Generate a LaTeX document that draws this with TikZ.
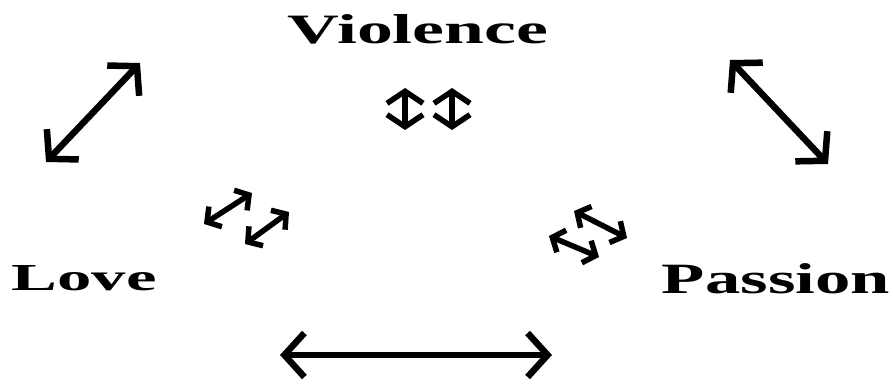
\documentclass[tikz,border=0pt]{standalone}
\usepackage{fontspec}
\setmainfont{Liberation Serif}
\usetikzlibrary{arrows.meta}
\begin{document}
\begin{tikzpicture}[x=1pt,y=-1pt,
  lbl/.style={inner sep=0pt,font=\bfseries},
  bigarr/.style={line width=6.5pt,{Straight Barb[length=20pt,width=44pt]}-{Straight Barb[length=20pt,width=44pt]}},
  smallarr/.style={line width=5.5pt,{Straight Barb[length=10pt,width=24pt]}-{Straight Barb[length=10pt,width=24pt]}},
  vertarr/.style={line width=5.5pt,{Straight Barb[length=12pt,width=36pt]}-{Straight Barb[length=12pt,width=36pt]}}]
\useasboundingbox (0,0) rectangle (893,387);
% labels
\node[lbl] (vio) at (418,29) {\resizebox{260pt}{29pt}{Violence}};
\node[lbl,anchor=base] (love) at (84,290) {\resizebox{145pt}{25pt}{Love}};
\node[lbl,anchor=base] (pas) at (776,293) {\resizebox{228pt}{30pt}{Passion}};
% big arrows
\coordinate (tl1) at (46,162); \coordinate (tl2) at (140,63);
\coordinate (tr1) at (730,60); \coordinate (tr2) at (828,164);
\coordinate (b1) at (280,355); \coordinate (b2) at (552,355);
\draw[bigarr] (tl1) -- (tl2);
\draw[bigarr] (tr1) -- (tr2);
\draw[bigarr] (b1) -- (b2);
% small arrows top
\coordinate (v1a) at (405,88); \coordinate (v1b) at (405,130);
\coordinate (v2a) at (452,88); \coordinate (v2b) at (452,130);
\draw[vertarr] (v1a) -- (v1b);
\draw[vertarr] (v2a) -- (v2b);
% small arrows left
\coordinate (l1a) at (204,224); \coordinate (l1b) at (252,193);
\coordinate (l2a) at (245,244); \coordinate (l2b) at (289,212);
\draw[smallarr] (l1a) -- (l1b);
\draw[smallarr] (l2a) -- (l2b);
% small arrows right
\coordinate (r1a) at (574,211); \coordinate (r1b) at (627,238);
\coordinate (r2a) at (549,236); \coordinate (r2b) at (599,257);
\draw[smallarr] (r1a) -- (r1b);
\draw[smallarr] (r2a) -- (r2b);
\end{tikzpicture}
\end{document}
